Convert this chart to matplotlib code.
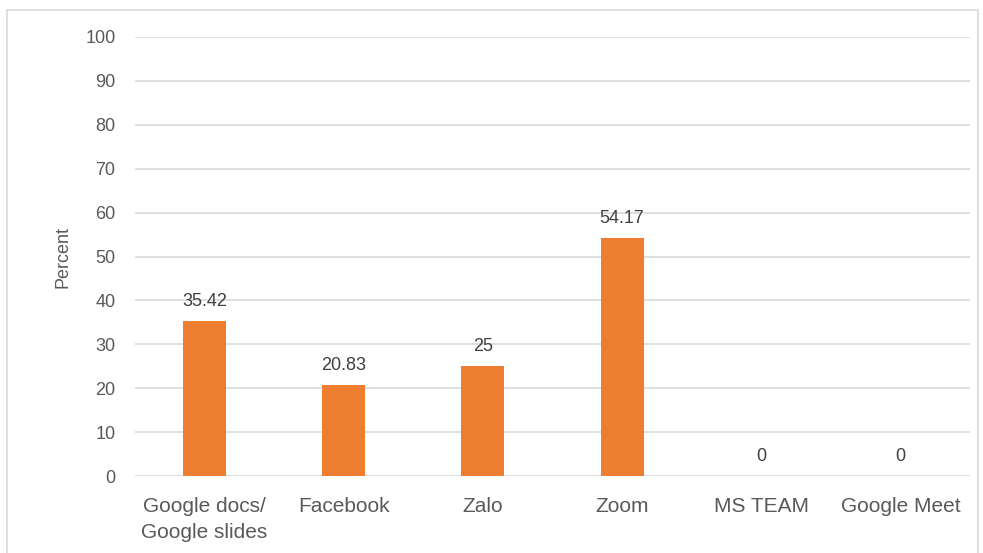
import matplotlib
matplotlib.use("Agg")
import matplotlib.pyplot as plt
from matplotlib.patches import Rectangle

categories = ["Google docs/\nGoogle slides", "Facebook", "Zalo", "Zoom", "MS TEAM", "Google Meet"]
percent = [35.42, 20.83, 25, 54.17, 0, 0]
labels = ["35.42", "20.83", "25", "54.17", "0", "0"]
yticks = list(range(0, 101, 10))

plt.rcParams['font.family'] = ['Liberation Sans', 'DejaVu Sans']

fig = plt.figure(figsize=(9.83, 5.53), dpi=100)
ax = fig.add_axes([0.1373, 0.1392, 0.8495, 0.7939])

# outer chart border
fig.patches.append(Rectangle((7 / 983, -0.05), 971 / 983, 1 - 10 / 553 + 0.05,
                             transform=fig.transFigure, fill=False,
                             edgecolor="#D9D9D9", linewidth=1.2))

x = range(len(categories))
ax.bar(x, percent, width=0.31, color="#ED7D31", zorder=3)

for i, v in enumerate(percent):
    ax.text(i, v + 2.5, labels[i], ha="center", va="bottom", fontsize=13, color="#404040")

ax.set_ylim(0, 100)
ax.set_xlim(-0.5, len(categories) - 0.5)
ax.set_yticks(yticks)
ax.set_xticks(list(x))
ax.set_xticklabels(categories, fontsize=15, color="#595959", va="top", linespacing=1.45)
ax.tick_params(axis="y", labelsize=13, labelcolor="#595959", length=0, pad=14)
ax.tick_params(axis="x", length=0, pad=15)
ax.grid(axis="y", color="#D9D9D9", linewidth=1.2, zorder=0)
for s in ax.spines.values():
    s.set_visible(False)
ax.set_ylabel("Percent", fontsize=13, color="#595959", labelpad=10)

plt.savefig("out.png", dpi=100)
